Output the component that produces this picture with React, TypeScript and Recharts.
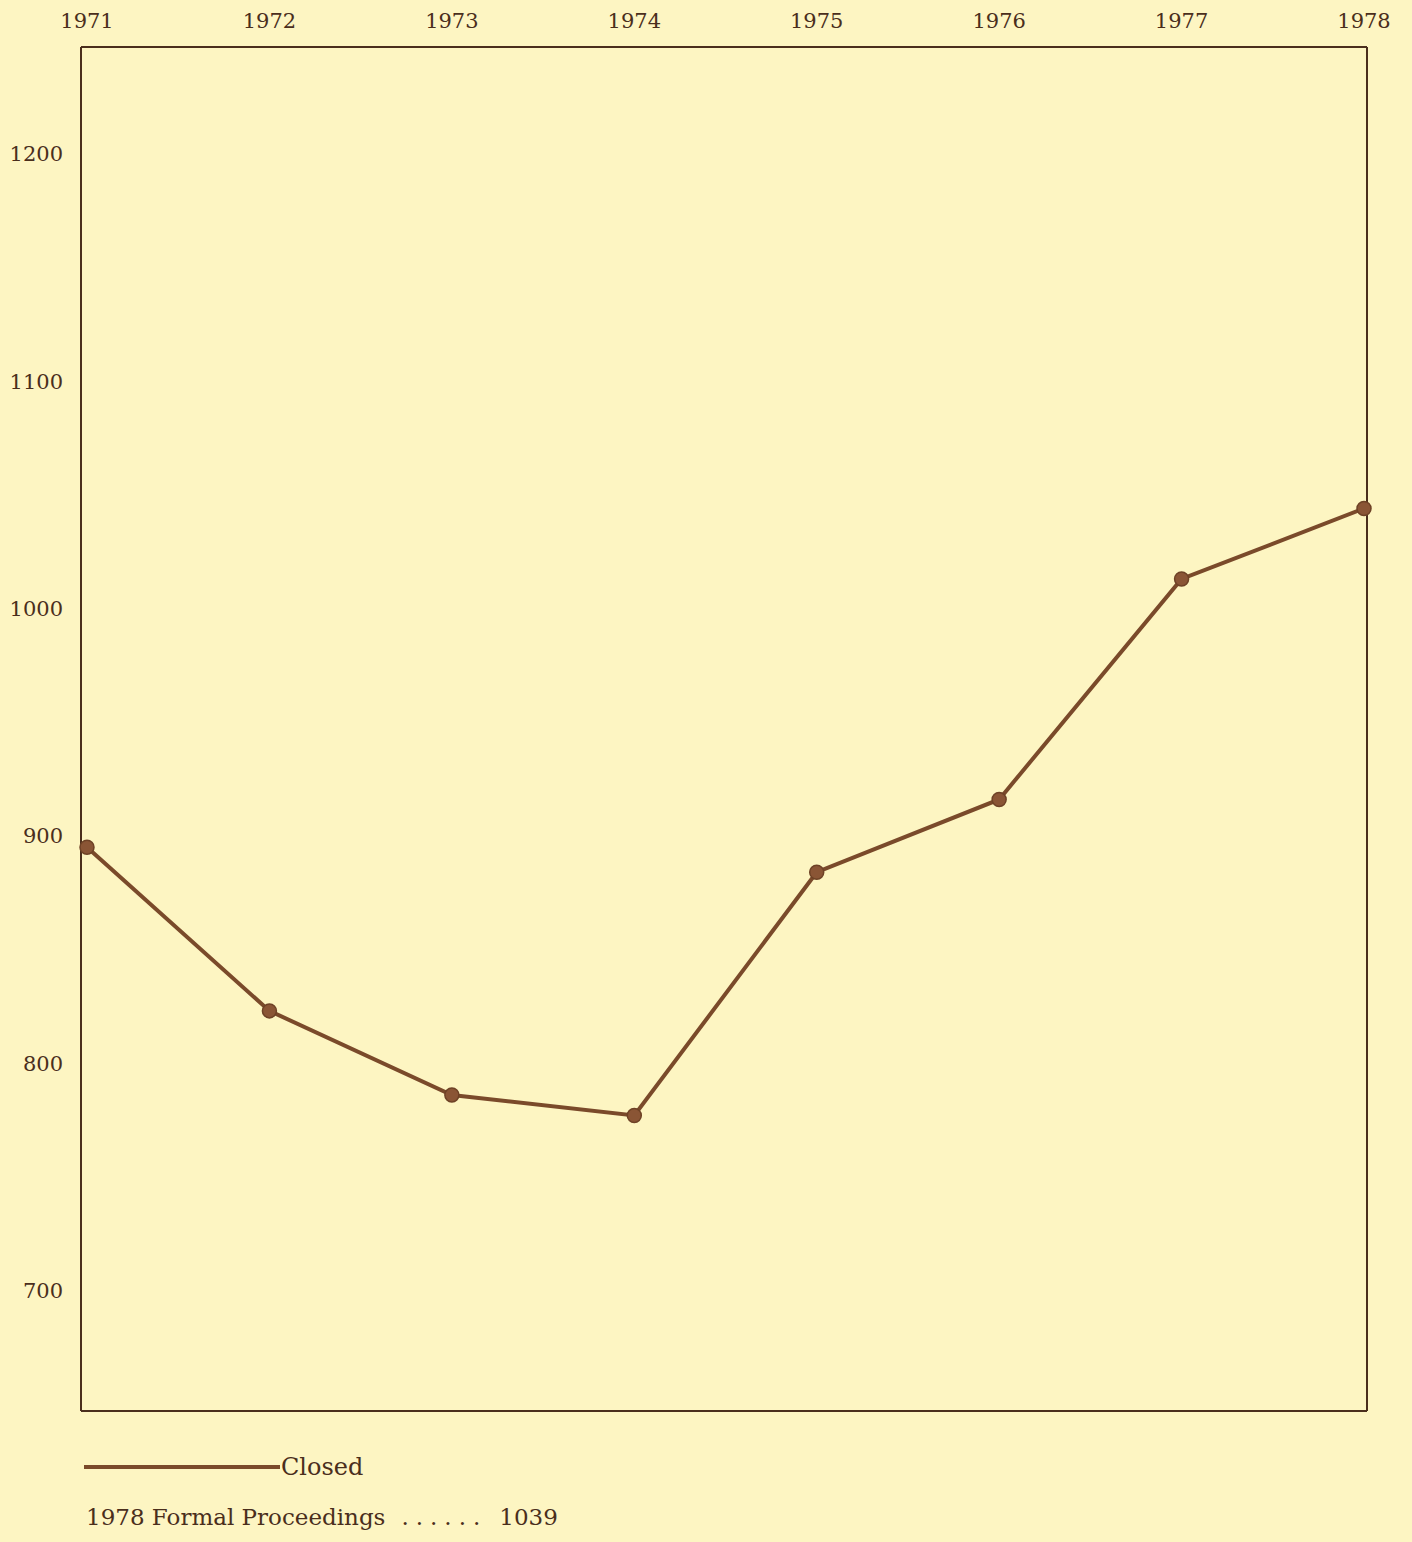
import React from 'react';
import { LineChart, Line, XAxis, YAxis, CartesianGrid } from 'recharts';

const years = ['1971', '1972', '1973', '1974', '1975', '1976', '1977', '1978'];
const closed = [895, 823, 786, 777, 884, 916, 1013, 1044];
const yTicks = [700, 800, 900, 1000, 1100, 1200];
const seriesName = 'Closed';
const footnoteLabel = '1978 Formal Proceedings';
const footnoteValue = 1039;

const data = years.map((year, i) => ({ year, closed: closed[i] }));

const paper = '#fdf5c2';
const ink = '#4a2e1c';
const lineColor = '#7a4a2a';
const font = '"DejaVu Serif", serif';

const LegendBox = () => (
  <div style={{ position: 'absolute', left: 84, top: 1452, fontFamily: font, color: ink }}>
    <div style={{ display: 'flex', alignItems: 'center', height: 30 }}>
      <span style={{ display: 'inline-block', width: 196, height: 4, background: lineColor }} />
      <span style={{ fontSize: 24, marginLeft: 1 }}>{seriesName}</span>
    </div>
    <div style={{ fontSize: 23, marginTop: 22, whiteSpace: 'pre', display: 'flex', marginLeft: 2 }}>
      <span>{footnoteLabel}</span>
      <span style={{ marginLeft: 16, letterSpacing: 7 }}>......</span>
      <span style={{ marginLeft: 12 }}>{footnoteValue}</span>
    </div>
  </div>
);

// frame lines along the edges of the plot area
const frameRows = ({ offset }: any) => [offset.top, offset.top + offset.height];
const frameCols = ({ offset }: any) => [offset.left, offset.left + offset.width];

const App = () => {
  return (
    <div style={{ position: 'absolute', left: 0, top: 0, width: 1412, height: 1542, background: paper }}>
      <LineChart width={1412} height={1542} data={data} margin={{ top: 7, right: 45, bottom: 131, left: 0 }}>
        <CartesianGrid
          stroke={ink}
          strokeWidth={2}
          horizontalCoordinatesGenerator={frameRows}
          verticalCoordinatesGenerator={frameCols}
        />
        <XAxis
          dataKey="year"
          orientation="top"
          height={40}
          axisLine={{ stroke: ink, strokeWidth: 2 }}
          tickLine={false}
          tickSize={0}
          tickMargin={19}
          padding={{ left: 6, right: 3 }}
          tick={{ fill: ink, fontSize: 21, fontFamily: font }}
        />
        <YAxis
          domain={[647, 1247]}
          ticks={yTicks}
          width={81}
          axisLine={{ stroke: ink, strokeWidth: 2 }}
          tickLine={false}
          tickSize={0}
          tickMargin={18}
          tick={{ fill: ink, fontSize: 21, fontFamily: font }}
        />
        <Line
          type="linear"
          dataKey="closed"
          name={seriesName}
          stroke={lineColor}
          strokeWidth={4}
          dot={{ r: 7, fill: '#8a5535', stroke: '#6e4226', strokeWidth: 1.5 }}
          activeDot={false}
          isAnimationActive={false}
        />
      </LineChart>
      <LegendBox />
    </div>
  );
};

export default App;
